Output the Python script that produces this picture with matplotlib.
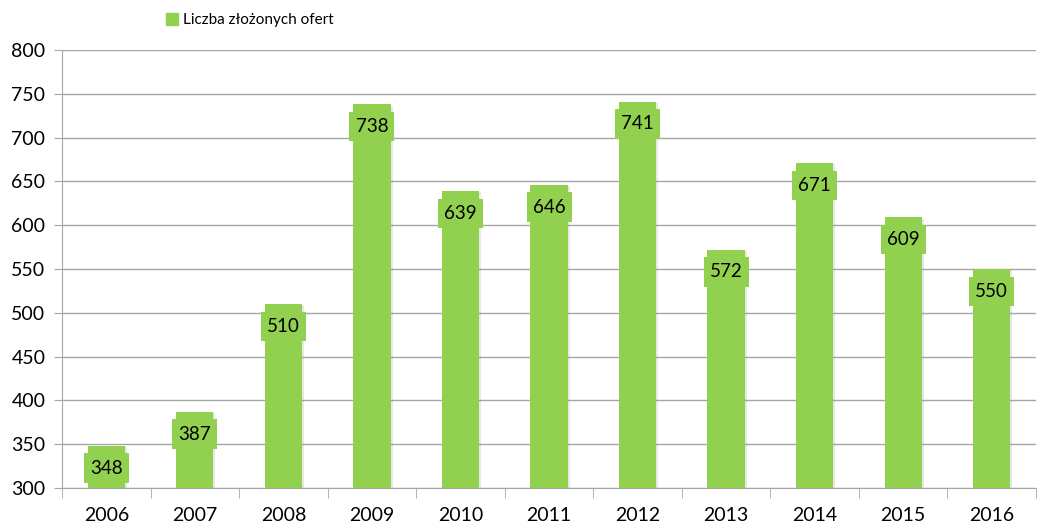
import matplotlib
matplotlib.use('Agg')
import matplotlib.pyplot as plt
import matplotlib.patches as mpatches
import matplotlib.patheffects as pe
import numpy as np

years = ['2006', '2007', '2008', '2009', '2010', '2011', '2012', '2013', '2014', '2015', '2016']
offers = [348, 387, 510, 738, 639, 646, 741, 572, 671, 609, 550]
series_name = 'Liczba złożonych ofert'

green = '#92D050'
grid_col = '#A6A6A6'
plt.rcParams['font.family'] = ['Lato', 'DejaVu Sans']

fig = plt.figure(figsize=(10.38, 5.28), dpi=100)
ax = fig.add_axes([62/1038, 1 - 488/528, (1036 - 62)/1038, (488 - 50)/528])

x = np.arange(len(years))
bars = ax.bar(x, np.array(offers) - 300, bottom=300, width=0.42, color=green, zorder=3)
for b in bars:
    b.set_path_effects([pe.SimplePatchShadow(offset=(1.5, -1), shadow_rgbFace='#808080', alpha=0.18), pe.Normal()])

for xi, v in zip(x, offers):
    ax.annotate(str(v), (xi, v), xytext=(0, -16), textcoords='offset points',
                ha='center', va='center', fontsize=13.5, color='black', zorder=5,
                bbox=dict(boxstyle='square,pad=0.33', fc=green, ec='none'))

ax.set_xlim(-0.5, len(years) - 0.5)
ax.set_ylim(300, 800)
ax.set_yticks(np.arange(300, 801, 50))
ax.set_xticks(x)
ax.set_xticklabels(years)
ax.set_xticks(np.arange(-0.5, len(years), 1), minor=True)
ax.tick_params(axis='x', which='major', length=0, pad=14, labelsize=14)
ax.tick_params(axis='x', which='minor', length=7, color=grid_col, direction='out')
ax.tick_params(axis='y', length=6, color=grid_col, pad=6, labelsize=14)
ax.grid(axis='y', color=grid_col, linewidth=1, zorder=0)
ax.set_axisbelow(True)
for s in ['top', 'right']:
    ax.spines[s].set_visible(False)
for s in ['left', 'bottom']:
    ax.spines[s].set_color(grid_col)

handle = mpatches.Patch(color=green, label=series_name)
fig.legend(handles=[handle], loc='center left', bbox_to_anchor=(152/1038, 1 - 20/528),
           frameon=False, fontsize=11, handlelength=0.8, handleheight=0.8, handletextpad=0.3)

fig.savefig('out.png', dpi=100)
